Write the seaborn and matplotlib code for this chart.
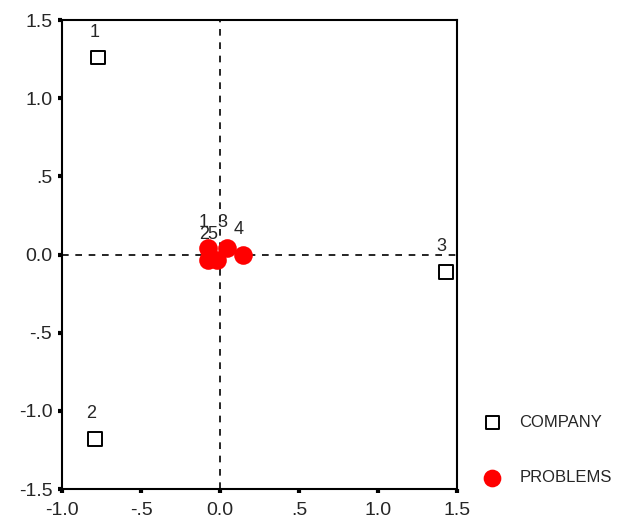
import matplotlib
matplotlib.use("Agg")
import matplotlib.pyplot as plt
import seaborn as sns
import pandas as pd

# Category coordinates
company_labels = ["1", "2", "3"]
company_x = [-0.77, -0.79, 1.43]
company_y = [1.26, -1.18, -0.11]

problem_labels = ["1", "3", "4", "2", "5"]
problem_x = [-0.076, 0.044, 0.146, -0.076, -0.02]
problem_y = [0.042, 0.042, -0.003, -0.035, -0.035]

company = pd.DataFrame({"x": company_x, "y": company_y, "label": company_labels})
problems = pd.DataFrame({"x": problem_x, "y": problem_y, "label": problem_labels})

sns.set_style("white")
plt.rcParams["font.family"] = ["Liberation Sans", "DejaVu Sans"]

fig = plt.figure(figsize=(6.33, 5.21), dpi=100)
ax = fig.add_axes([0.098, 0.0614, 0.624, 0.9002])

# reference lines through origin
ax.axhline(0, color="black", lw=1.2, ls=(0, (4, 4)), zorder=1)
ax.axvline(0, color="black", lw=1.2, ls=(0, (4, 4)), zorder=1)

sns.scatterplot(data=company, x="x", y="y", marker="s", s=100,
                facecolor="none", edgecolor="black", linewidth=1.4,
                label="COMPANY", ax=ax, zorder=3)
sns.scatterplot(data=problems, x="x", y="y", marker="o", s=180,
                color="#ff0000", edgecolor="#ff0000", linewidth=0,
                label="PROBLEMS", ax=ax, zorder=3)

for df in (company, problems):
    for _, r in df.iterrows():
        ax.annotate(r["label"], (r["x"], r["y"]), xytext=(-3, 18),
                    textcoords="offset points", ha="center", va="center",
                    fontsize=13)

ax.set_xlim(-1.0, 1.5)
ax.set_ylim(-1.5, 1.5)
xt = [-1.0, -0.5, 0.0, 0.5, 1.0, 1.5]
yt = [-1.5, -1.0, -0.5, 0.0, 0.5, 1.0, 1.5]
fmt = lambda v: "0.0" if v == 0 else ("%.1f" % v).replace("0.", ".") if abs(v) < 1 else "%.1f" % v
ax.set_xticks(xt)
ax.set_xticklabels([fmt(v) for v in xt])
ax.set_yticks(yt)
ax.set_yticklabels([fmt(v) for v in yt])
ax.tick_params(direction="out", length=3, width=3, labelsize=14, color="black",
               left=True, bottom=True)
ax.tick_params(axis="x", pad=6)
ax.tick_params(axis="y", pad=4)
ax.set_xlabel("")
ax.set_ylabel("")
for s in ax.spines.values():
    s.set_color("black")
    s.set_linewidth(1.5)

ax.get_legend().remove()
h, l = ax.get_legend_handles_labels()
fig.legend(h, l, loc="lower left", bbox_to_anchor=(0.728, 0.04), frameon=False,
           fontsize=12, labelspacing=2.4, handletextpad=0.6, markerscale=0.95)

fig.savefig("out.png", dpi=100)
